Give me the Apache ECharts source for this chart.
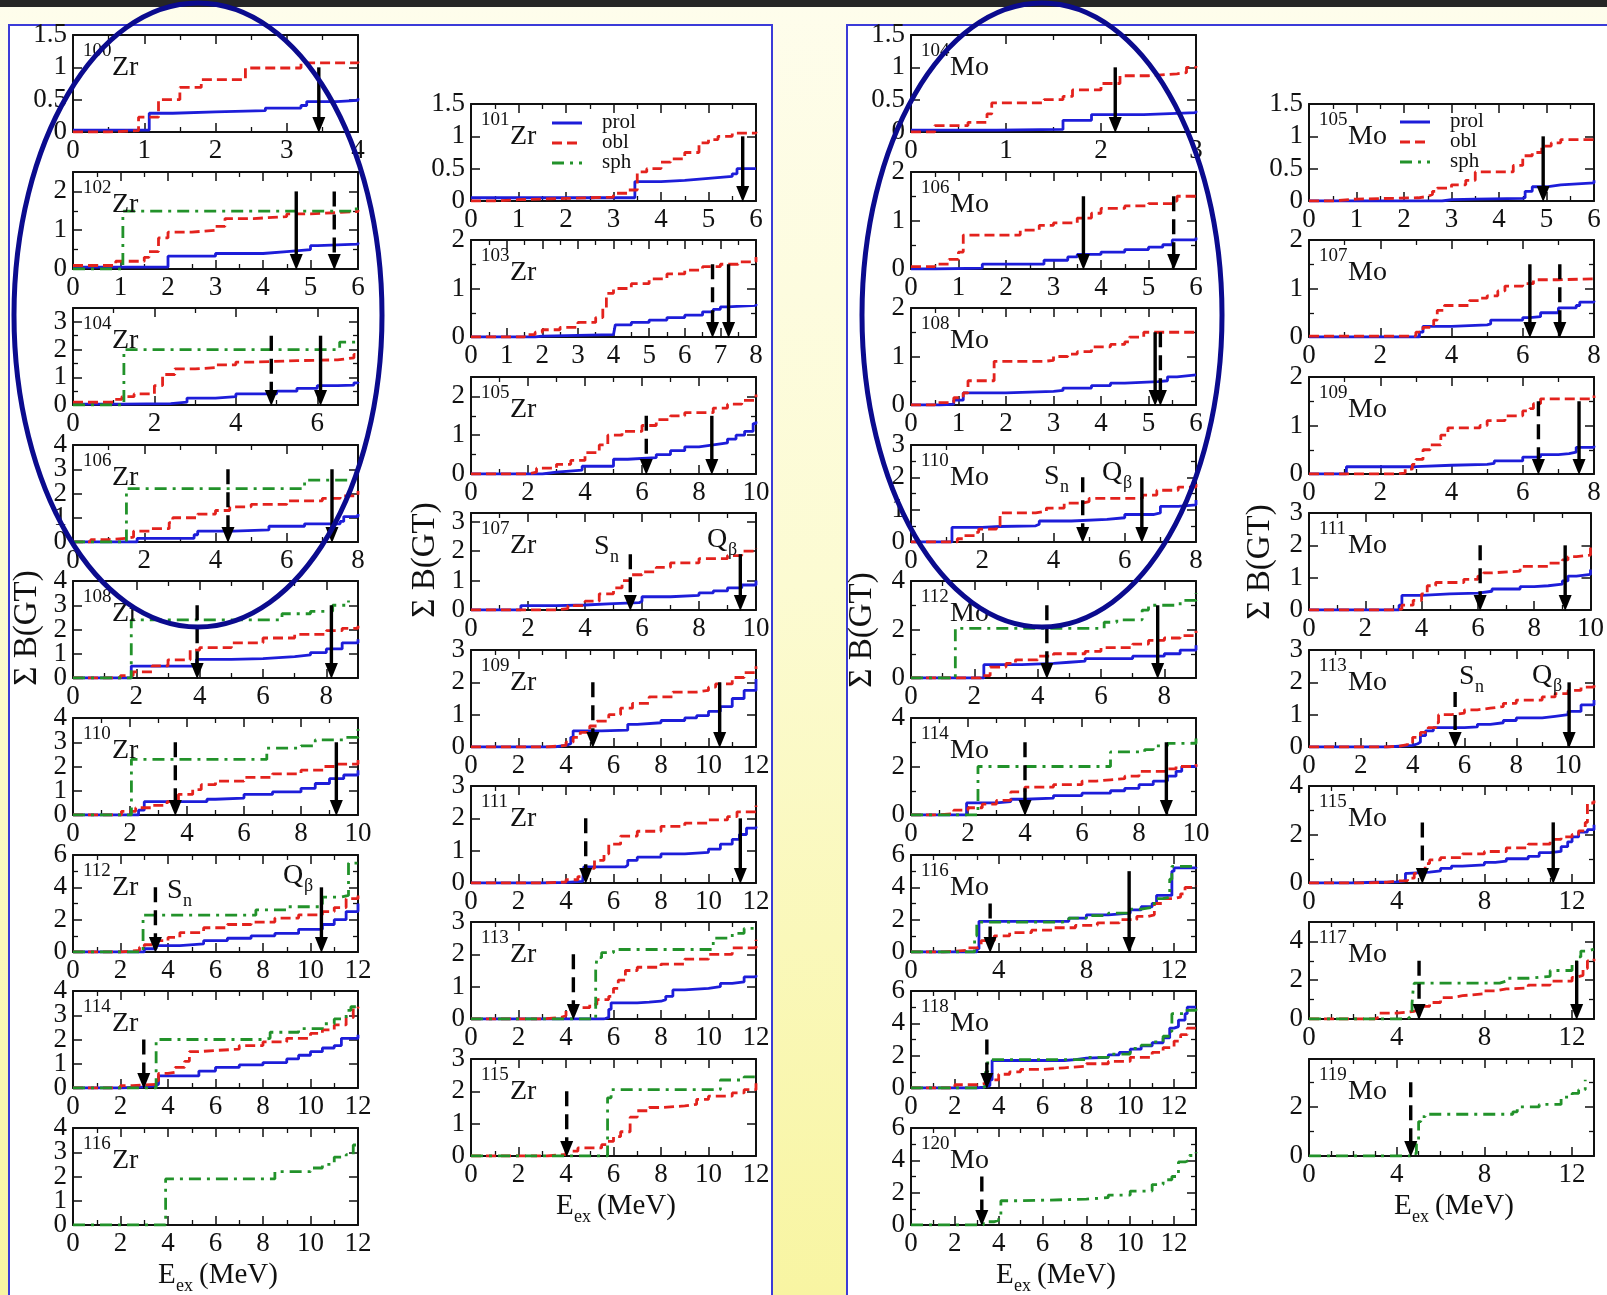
<!DOCTYPE html>
<html>
<head>
<meta charset="utf-8">
<script src="https://cdn.jsdelivr.net/npm/echarts@6/dist/echarts.min.js"></script>
<style>
  html, body { margin: 0; padding: 0; }
  body {
    width: 1607px; height: 1295px; overflow: hidden; position: relative;
    background: linear-gradient(to bottom, #fefdec 0%, #fcfbd2 45%, #f8f5a2 100%);
  }
  .band { position: absolute; left: 0; top: 0; width: 1607px; height: 7px; background: #262626; }
  .sheet { position: absolute; top: 24px; height: 1300px; background: #fff; border: 2px solid #3b3bd8; box-sizing: border-box; }
  #chart { position: absolute; left: 0; top: 0; width: 1607px; height: 1295px; }
</style>
</head>
<body>
<div class="band"></div>
<div class="sheet" style="left:8px;width:765px;"></div>
<div class="sheet" style="left:846px;width:780px;"></div>
<div id="chart"></div>
<script>
// Cumulative Gamow-Teller strength, sum B(GT), vs excitation energy (MeV).
// Each curve: [energy, running sum]; drawn as a step line.
// Arrows: [energy, arrow top, kind] with kind 1 = S_n (dashed), 0 = Q_beta (solid).

// ---- even Zr ----
const zr100Prol = [[0,0.03],[1.07,0.29],[1.4,0.31],[2.0,0.33],[2.7,0.37],[3.2,0.41],[3.28,0.47],[3.7,0.49],[4,0.52]];
const zr100Obl = [[0,0],[0.5,0.02],[0.92,0.23],[1.2,0.5],[1.5,0.69],[1.8,0.81],[2.42,0.99],[3.2,1.07],[4,1.09]];
const zr100Arrows = [[3.45,1.0,0]];

const zr102Prol = [[0,0.05],[2.0,0.33],[3.0,0.4],[4.0,0.45],[4.5,0.5],[5.0,0.6],[5.15,0.64],[6,0.68]];
const zr102Obl = [[0,0.09],[0.9,0.2],[1.5,0.3],[1.6,0.45],[1.8,0.8],[2.0,0.95],[2.5,1.0],[3.0,1.1],[3.2,1.3],[3.8,1.35],[4.5,1.42],[5.0,1.45],[5.5,1.48],[6,1.52]];
const zr102Sph = [[0,0],[1.05,1.49],[5.9,1.55],[6,1.55]];
const zr102Arrows = [[4.7,2.0,0],[5.5,2.0,1]];

const zr104Prol = [[0,0.03],[1.2,0.05],[2.4,0.1],[2.8,0.25],[3.5,0.3],[4.0,0.4],[5.0,0.5],[5.5,0.6],[6.0,0.7],[6.5,0.72],[6.9,0.8],[7,0.83]];
const zr104Obl = [[0,0.1],[1.0,0.2],[1.2,0.3],[1.5,0.4],[2.0,0.7],[2.2,1.1],[2.5,1.3],[3.0,1.35],[3.5,1.45],[4.0,1.55],[4.5,1.6],[5.5,1.63],[6.5,1.7],[6.9,1.83],[7,1.83]];
const zr104Sph = [[0,0],[1.25,2.0],[6.55,2.27],[7,2.27]];
const zr104Arrows = [[4.87,2.5,1],[6.08,2.5,0]];

const zr106Prol = [[0,0],[1.8,0.15],[3.4,0.3],[3.5,0.45],[4.5,0.5],[5.5,0.65],[6.5,0.75],[7.5,0.85],[7.6,1.05],[8,1.15]];
const zr106Obl = [[0,0],[0.5,0.1],[1.0,0.15],[1.5,0.2],[1.7,0.45],[2.2,0.55],[2.7,0.8],[2.8,1.0],[3.5,1.15],[4,1.3],[4.4,1.45],[5,1.55],[6,1.7],[7,1.8],[7.5,1.9],[8,2.1]];
const zr106Sph = [[0,0],[1.5,2.2],[6.5,2.55],[8,2.65]];
const zr106Arrows = [[4.35,3.0,1],[7.27,3.0,0]];

const zr108Prol = [[0,0],[1.84,0.49],[3.9,0.77],[5,0.8],[6,0.88],[7,0.95],[7.5,1.05],[8,1.2],[8.5,1.45],[9,1.6]];
const zr108Obl = [[0,0],[1.5,0.1],[1.9,0.25],[2.5,0.5],[3,0.75],[3.7,1.15],[4,1.25],[5,1.45],[6,1.65],[7,1.8],[8,1.95],[8.5,2.05],[9,2.15]];
const zr108Sph = [[0,0],[1.84,2.4],[6.6,2.65],[7.5,2.75],[8.2,3.0],[8.7,3.2]];
const zr108Arrows = [[3.92,3.0,1],[8.16,3.0,0]];

const zr110Prol = [[0,0],[2.3,0.2],[2.5,0.55],[4.7,0.65],[5,0.7],[6,0.85],[7,0.95],[8,1.1],[8.5,1.3],[9,1.5],[9.5,1.65],[10,1.85]];
const zr110Obl = [[0,0],[1.7,0.15],[2.2,0.3],[2.8,0.4],[3.3,0.55],[3.7,0.85],[4.2,1.05],[4.5,1.25],[5,1.4],[6,1.55],[7,1.7],[8,1.85],[8.8,2.0],[9.2,2.1],[10,2.3]];
const zr110Sph = [[0,0],[2.05,2.29],[6.8,2.76],[8,2.85],[8.5,3.1],[9.5,3.2],[10,3.55]];
const zr110Arrows = [[3.59,3.0,1],[9.24,3.0,0]];

const zr112Prol = [[0,0],[3,0.2],[3.5,0.4],[4.5,0.5],[5.5,0.7],[6.5,0.85],[7.5,1.0],[8.5,1.15],[9.5,1.4],[10.5,1.7],[11,2.0],[11.5,2.5],[12,3.0]];
const zr112Obl = [[0,0],[2,0.1],[2.8,0.3],[3,0.45],[3.5,0.7],[4,0.9],[4.5,1.2],[5.5,1.5],[6.5,1.7],[7.5,1.85],[8.5,2.1],[9.5,2.3],[10.5,2.5],[11,2.75],[11.5,3.3],[12,3.6]];
const zr112Sph = [[0,0],[2.95,2.28],[7.7,2.6],[9,2.8],[10.5,3.4],[11.3,3.5],[11.6,5.5],[12,5.5]];
const zr112Arrows = [[3.47,4.0,1],[10.46,4.0,0]];

const zr114Prol = [[0,0],[2,0.05],[3,0.1],[3.5,0.15],[3.6,0.5],[5.3,0.7],[6,0.85],[7,0.95],[8,1.05],[9,1.2],[9.5,1.35],[10,1.5],[10.5,1.65],[11,1.75],[11.3,2.05],[12,2.2]];
const zr114Obl = [[0,0],[2,0.1],[2.5,0.15],[3.5,0.3],[3.6,0.6],[4,0.65],[4.3,0.85],[4.7,1.1],[4.9,1.5],[5.3,1.55],[6,1.6],[7,1.75],[8,1.9],[9,2.05],[10,2.25],[10.5,2.4],[11,2.6],[11.5,2.9],[11.8,3.3],[12,3.35]];
const zr114Sph = [[0,0],[3.5,2.0],[8,2.05],[8.3,2.3],[9.5,2.45],[10.5,2.65],[11,2.85],[11.5,3.2],[11.7,3.35],[12,3.4]];
const zr114Arrows = [[2.98,2.0,1]];

const zr116Sph = [[0,0],[3.9,1.9],[8.5,2.2],[10,2.35],[10.5,2.5],[11,2.8],[11.5,2.9],[11.8,3.3],[12,3.3]];

// ---- odd Zr ----
const zr101Prol = [[0,0.05],[3.45,0.3],[4,0.32],[4.5,0.35],[5,0.38],[5.5,0.42],[5.6,0.5],[6,0.5]];
const zr101Obl = [[0,0],[0.5,0.02],[1,0.04],[2,0.06],[3,0.12],[3.3,0.17],[3.5,0.45],[3.7,0.5],[4.0,0.6],[4.2,0.65],[4.5,0.75],[4.8,0.9],[5.0,0.95],[5.2,1.0],[5.5,1.05],[6,1.07]];
const zr101Arrows = [[5.72,1.0,0]];

const zr103Prol = [[0,0],[1.8,0.02],[2,0.05],[4.0,0.07],[4.05,0.25],[4.5,0.3],[5,0.35],[5.5,0.4],[6,0.45],[6.5,0.52],[6.8,0.57],[7.0,0.62],[7.2,0.65],[8,0.68]];
const zr103Obl = [[0,0],[1.5,0.05],[1.8,0.1],[2.0,0.15],[2.5,0.2],[3.0,0.3],[3.5,0.4],[3.7,0.6],[3.8,0.9],[4.0,1.0],[4.5,1.1],[5.0,1.2],[5.5,1.3],[6,1.38],[6.5,1.45],[7,1.5],[7.5,1.55],[8,1.65]];
const zr103Arrows = [[6.78,1.5,1],[7.23,1.5,0]];

const zr105Prol = [[0,0],[2.5,0.05],[3,0.1],[3.9,0.2],[5,0.38],[5.5,0.42],[6.5,0.5],[7,0.6],[7.5,0.7],[8,0.75],[8.5,0.8],[9,0.9],[9.3,1.0],[9.6,1.1],[9.9,1.3],[10,1.35]];
const zr105Obl = [[0,0],[2,0.05],[2.3,0.15],[3,0.25],[3.5,0.35],[4,0.55],[4.5,0.75],[4.8,1.0],[5.3,1.1],[6,1.25],[6.5,1.4],[7,1.5],[7.5,1.58],[8.5,1.7],[9,1.8],[9.5,1.9],[10,2.05]];
const zr105Arrows = [[6.15,1.5,1],[8.45,1.5,0]];

const zr107Prol = [[0,0],[1.75,0.15],[3,0.17],[4,0.22],[5,0.25],[5.9,0.3],[6.0,0.45],[7,0.5],[8,0.58],[8.5,0.65],[9,0.75],[9.5,0.85],[10,1.0]];
const zr107Obl = [[0,0],[3,0.05],[3.4,0.15],[4,0.3],[4.5,0.55],[5,0.75],[5.3,1.0],[5.6,1.2],[6,1.3],[6.5,1.45],[7,1.6],[8,1.75],[9,1.85],[9.5,2.0],[10,2.1]];
const zr107Arrows = [[5.59,1.9,1],[9.45,1.9,0]];

const zr109Prol = [[0,0],[3.5,0.05],[4,0.1],[4.2,0.3],[4.3,0.5],[5.5,0.52],[6.6,0.7],[7,0.75],[8,0.82],[9,0.9],[9.5,0.97],[10,1.1],[10.5,1.25],[11,1.5],[11.5,1.75],[12,2.1]];
const zr109Obl = [[0,0],[3.2,0.05],[4,0.15],[4.3,0.3],[4.6,0.45],[5,0.65],[5.3,0.8],[5.8,1.0],[6.3,1.2],[6.8,1.35],[7.5,1.55],[8.5,1.7],[9.5,1.75],[10,1.85],[10.3,1.95],[11,2.15],[11.5,2.3],[12,2.5]];
const zr109Arrows = [[5.13,2.0,1],[10.47,2.0,0]];

const zr111Prol = [[0,0],[3,0.02],[4,0.05],[4.7,0.1],[4.75,0.5],[6.5,0.55],[6.6,0.7],[7,0.8],[8,0.9],[9,0.95],[10,1.05],[10.5,1.2],[11,1.35],[11.3,1.5],[11.6,1.7],[12,1.75]];
const zr111Obl = [[0,0],[3,0.03],[4,0.1],[4.5,0.2],[4.8,0.45],[5.2,0.7],[5.6,0.9],[5.8,1.2],[6.3,1.45],[7,1.6],[8,1.75],[9,1.85],[10,1.95],[10.8,2.05],[11.2,2.2],[12,2.4]];
const zr111Arrows = [[4.83,2.0,1],[11.34,2.0,0]];

const zr113Prol = [[0,0],[5.6,0.05],[5.8,0.3],[5.9,0.5],[7,0.52],[7.5,0.55],[8,0.6],[8.2,0.7],[8.5,0.9],[9,0.95],[10,1.0],[10.5,1.1],[11,1.15],[11.5,1.3],[12,1.35]];
const zr113Obl = [[0,0],[3,0.05],[3.8,0.1],[4,0.25],[4.2,0.35],[5,0.45],[5.3,0.6],[5.8,0.7],[6,0.95],[6.2,1.2],[6.5,1.5],[7,1.6],[8,1.7],[9,1.85],[10,2.0],[11,2.2],[12,2.45]];
const zr113Sph = [[0,0],[5.25,1.5],[5.3,1.9],[5.5,2.05],[6,2.15],[10.2,2.5],[11,2.65],[11.5,2.8],[12,2.9]];
const zr113Arrows = [[4.31,2.0,1]];

const zr115Obl = [[0,0],[3.2,0.05],[4,0.15],[4.5,0.25],[5.5,0.35],[5.7,0.45],[6,0.6],[6.3,0.75],[6.7,1.2],[7,1.4],[7.5,1.5],[8,1.55],[9,1.6],[9.5,1.75],[10,1.85],[11,1.95],[11.5,2.05],[12,2.25]];
const zr115Sph = [[0,0],[5.75,1.8],[5.9,2.05],[10.5,2.35],[11.5,2.45],[12,2.55]];
const zr115Arrows = [[4.03,2.0,1]];

// ---- even Mo ----
const mo104Prol = [[0,0.03],[0.9,0.04],[1.6,0.18],[1.9,0.27],[2.45,0.3],[3,0.33]];
const mo104Obl = [[0,0],[0.25,0.1],[0.6,0.15],[0.8,0.28],[0.85,0.45],[1.4,0.5],[1.6,0.55],[1.7,0.65],[2.0,0.75],[2.2,0.87],[2.5,0.9],[2.8,0.92],[2.9,1.0],[3,1.02]];
const mo104Arrows = [[2.15,1.0,0]];

const mo106Prol = [[0,0],[0.5,0.02],[1.5,0.1],[2.8,0.18],[3.3,0.25],[3.5,0.3],[4,0.35],[4.5,0.4],[5,0.45],[5.3,0.5],[5.5,0.6],[6,0.65]];
const mo106Obl = [[0,0.05],[0.5,0.1],[0.8,0.2],[1.0,0.35],[1.1,0.7],[2.3,0.8],[2.7,0.9],[3.0,0.95],[3.5,1.05],[3.8,1.15],[4.0,1.25],[4.5,1.3],[5.0,1.35],[5.5,1.4],[5.6,1.5],[6,1.52]];
const mo106Arrows = [[3.63,1.5,0],[5.53,1.5,1]];

const mo108Prol = [[0,0],[0.6,0.02],[0.9,0.1],[1.1,0.25],[2,0.28],[3,0.3],[3.2,0.35],[3.8,0.4],[4.2,0.45],[4.5,0.48],[5.2,0.5],[5.4,0.58],[5.6,0.62],[6,0.63]];
const mo108Obl = [[0,0],[0.5,0.05],[0.9,0.15],[1.1,0.25],[1.2,0.5],[1.75,0.9],[2.8,0.92],[3,1.0],[3.3,1.05],[3.5,1.1],[3.8,1.2],[4.2,1.25],[4.5,1.3],[4.6,1.4],[4.9,1.5],[6,1.5]];
const mo108Arrows = [[5.14,1.5,0],[5.25,1.5,1]];

const mo110Prol = [[0,0],[1.15,0.45],[2,0.48],[2.5,0.5],[3.5,0.55],[3.6,0.65],[4.5,0.7],[5.5,0.75],[6,0.85],[6.8,0.9],[7.0,1.1],[7.5,1.15],[8,1.3]];
const mo110Obl = [[0,0],[1.3,0.1],[1.5,0.2],[1.8,0.3],[1.9,0.4],[2.4,0.5],[2.5,0.9],[3.5,0.95],[3.8,1.05],[4.3,1.2],[4.8,1.25],[5.0,1.35],[6.5,1.45],[6.9,1.6],[7.5,1.7],[8,1.9]];
const mo110Arrows = [[4.82,2.0,1],[6.48,2.0,0]];

const mo112Prol = [[0,0],[2.3,0.55],[3.5,0.6],[4.5,0.65],[5,0.7],[5.5,0.8],[7,0.9],[8,1.0],[8.5,1.15],[9,1.35]];
const mo112Obl = [[0,0],[2.2,0.1],[2.5,0.45],[3,0.6],[3.3,0.75],[4,0.9],[4.5,1.0],[5.5,1.1],[6,1.25],[7,1.4],[7.5,1.55],[8,1.65],[8.5,1.75],[9,1.95]];
const mo112Sph = [[0,0],[1.4,2.05],[6.1,2.3],[6.5,2.4],[7.3,2.8],[7.5,3.0],[8.5,3.2],[9,3.5]];
const mo112Arrows = [[4.29,3.0,1],[7.79,3.0,0]];

const mo114Prol = [[0,0],[1.95,0.5],[3,0.55],[3.5,0.65],[4,0.7],[5,0.8],[6,0.9],[7,1.0],[7.5,1.1],[8,1.25],[8.5,1.4],[9,1.6],[9.3,1.8],[9.5,2.0],[10,2.05]];
const mo114Obl = [[0,0],[0.8,0.05],[1.5,0.2],[2,0.3],[2.5,0.45],[3,0.6],[3.5,0.95],[4,1.15],[5,1.25],[6,1.4],[6.5,1.45],[7,1.5],[7.5,1.6],[8,1.8],[9,1.9],[9.3,2.0],[10,2.1]];
const mo114Sph = [[0,0],[2.35,2.0],[7.0,2.6],[8.2,2.7],[8.5,2.85],[9,2.95],[10,3.15]];
const mo114Arrows = [[4.0,3.0,1],[8.96,3.0,0]];

const mo116Prol = [[0,0],[3.0,0.2],[3.1,1.9],[7.2,2.1],[8,2.3],[9,2.4],[10,2.6],[10.5,2.8],[11,3.0],[11.2,3.5],[11.9,5.0],[12,5.2],[13,5.25]];
const mo116Obl = [[0,0],[1.5,0.1],[2.5,0.25],[3,0.35],[3.2,0.7],[3.8,1.0],[4.5,1.2],[5.5,1.35],[6.5,1.5],[7.5,1.65],[8.5,1.8],[9.5,2.0],[10.3,2.2],[10.8,2.3],[11.1,3.0],[11.5,3.3],[12,3.4],[12.3,3.6],[12.5,4.0],[13,4.1]];
const mo116Sph = [[0,0],[2.9,1.0],[3.0,1.85],[6.9,1.9],[7.2,2.1],[8,2.25],[9,2.4],[10,2.65],[10.5,2.75],[11,3.0],[11.2,3.3],[11.5,3.4],[11.8,4.5],[11.9,5.3],[13,5.4]];
const mo116Arrows = [[3.61,3.0,1],[9.95,5.0,0]];

const mo118Prol = [[0,0],[3,0.05],[3.3,0.15],[3.6,0.5],[3.7,1.7],[7,1.75],[7.5,1.85],[8,1.9],[9,2.05],[9.5,2.2],[10,2.4],[10.5,2.6],[11,2.8],[11.5,3.1],[11.8,3.7],[12,3.8],[12.2,4.2],[12.5,4.6],[12.6,5.0],[13,5.0]];
const mo118Obl = [[0,0],[2,0.2],[3,0.3],[3.5,0.5],[4,0.85],[4.5,1.0],[5,1.15],[6,1.25],[7,1.35],[8,1.5],[9,1.65],[10,1.9],[11,2.2],[11.5,2.5],[12,2.9],[12.3,3.3],[12.6,3.7],[13,3.75]];
const mo118Sph = [[0,0],[3.2,0.1],[3.4,1.0],[3.5,1.75],[8,1.9],[9,2.1],[10,2.45],[10.5,2.65],[11,2.85],[11.5,3.2],[11.8,3.5],[11.9,4.6],[12.5,4.8],[13,5.0]];
const mo118Arrows = [[3.46,3.0,1]];

const mo120Sph = [[0,0],[3.3,0.2],[3.8,0.3],[4.0,0.6],[4.1,1.5],[5,1.6],[8,1.7],[9,1.85],[10,2.1],[11,2.5],[11.5,2.8],[11.9,3.0],[12.2,3.9],[12.5,4.0],[12.7,4.3],[13,4.5]];
const mo120Arrows = [[3.23,3.0,1]];

// ---- odd Mo ----
const mo105Prol = [[0,0],[2.8,0.02],[3,0.03],[3.5,0.04],[4.5,0.05],[4.55,0.15],[4.7,0.22],[5,0.25],[5.3,0.28],[6,0.32]];
const mo105Obl = [[0,0],[0.5,0.03],[1,0.05],[2.3,0.07],[2.5,0.1],[2.6,0.15],[2.7,0.2],[3,0.25],[3.3,0.32],[3.5,0.45],[4.3,0.55],[4.5,0.7],[4.7,0.75],[4.9,0.85],[5.1,0.9],[5.3,0.95],[6,1.0]];
const mo105Arrows = [[4.93,1.0,0]];

const mo107Prol = [[0,0],[3.1,0.1],[3.2,0.22],[4,0.25],[5,0.27],[5.1,0.35],[6,0.4],[6.2,0.42],[6.5,0.5],[7,0.6],[7.5,0.65],[7.6,0.72],[8,0.75]];
const mo107Obl = [[0,0.02],[3,0.1],[3.2,0.2],[3.5,0.35],[3.6,0.55],[3.8,0.65],[4.5,0.75],[4.8,0.8],[5,0.85],[5.3,0.95],[5.5,1.05],[6,1.1],[6.3,1.18],[7,1.2],[8,1.22]];
const mo107Arrows = [[6.2,1.5,0],[7.04,1.5,1]];

const mo109Prol = [[0,0],[1.05,0.15],[3,0.18],[4,0.2],[5,0.22],[5.2,0.27],[6,0.35],[6.5,0.4],[7,0.42],[7.3,0.45],[7.5,0.55],[8,0.58]];
const mo109Obl = [[0,0],[2.4,0.02],[2.7,0.1],[2.9,0.2],[3.0,0.3],[3.2,0.5],[3.4,0.6],[3.7,0.8],[3.9,0.95],[4.8,1.0],[5,1.1],[5.5,1.2],[6,1.3],[6.2,1.35],[6.3,1.45],[6.5,1.55],[7.5,1.55],[8,1.62]];
const mo109Arrows = [[6.44,1.5,1],[7.58,1.5,0]];

const mo111Prol = [[0,0],[3.2,0.15],[3.3,0.45],[4,0.5],[5,0.52],[6,0.58],[6.5,0.65],[7.5,0.72],[8,0.75],[8.5,0.8],[9,0.9],[9.2,1.05],[9.5,1.1],[10,1.25]];
const mo111Obl = [[0,0],[3,0.03],[3.3,0.15],[3.7,0.3],[4,0.5],[4.2,0.75],[4.5,0.85],[5.5,0.95],[6,1.05],[6.2,1.15],[6.5,1.2],[7.5,1.35],[8.5,1.45],[9,1.55],[9.2,1.65],[9.5,1.7],[10,1.95]];
const mo111Arrows = [[6.08,2.0,1],[9.1,2.0,0]];

const mo113Prol = [[0,0],[3,0.05],[4,0.1],[4.2,0.15],[4.3,0.35],[4.5,0.5],[4.8,0.6],[6,0.62],[6.5,0.7],[7,0.75],[7.5,0.82],[8,0.9],[9,0.95],[9.5,1.0],[10,1.1],[10.5,1.3],[11,1.45]];
const mo113Obl = [[0,0],[3,0.03],[3.5,0.07],[3.8,0.15],[4,0.3],[4.3,0.45],[4.6,0.6],[4.9,0.75],[5,1.0],[5.5,1.05],[6,1.15],[6.5,1.2],[7,1.25],[7.5,1.35],[8,1.45],[9,1.55],[9.5,1.65],[10,1.75],[10.5,1.85],[11,2.0]];
const mo113Arrows = [[5.64,1.7,1],[10.04,2.0,0]];

const mo115Prol = [[0,0],[2,0.03],[3,0.05],[4,0.08],[4.3,0.1],[4.4,0.4],[4.5,0.45],[5.5,0.5],[6,0.6],[6.5,0.7],[7,0.75],[8,0.85],[8.5,0.9],[9,1.0],[10,1.1],[10.5,1.25],[11,1.3],[11.5,1.5],[11.8,1.7],[12,1.9],[12.3,2.1],[12.7,2.2],[13,2.4]];
const mo115Obl = [[0,0],[2.5,0.03],[3.5,0.08],[4,0.1],[4.5,0.2],[4.8,0.4],[5,0.55],[5.3,0.8],[5.5,0.95],[6,1.05],[7,1.2],[8,1.3],[9,1.45],[10,1.6],[11,1.8],[11.5,1.9],[12,2.0],[12.3,2.15],[12.6,2.5],[12.7,3.3],[13,3.4]];
const mo115Arrows = [[5.17,2.5,1],[11.14,2.5,0]];

const mo117Obl = [[0,0],[3,0.1],[3.2,0.3],[4,0.35],[4.5,0.4],[4.8,0.5],[5.2,0.65],[5.5,0.85],[6,1.1],[6.5,1.2],[7,1.3],[8,1.45],[8.5,1.55],[9,1.6],[10,1.75],[11,1.95],[12,2.15],[12.2,2.25],[12.5,2.6],[12.7,3.0],[13,3.1]];
const mo117Sph = [[0,0],[4.5,0.1],[4.6,0.2],[4.7,0.8],[4.75,1.5],[4.8,1.85],[8.7,1.95],[9,2.1],[10,2.2],[11,2.5],[12,2.85],[12.2,3.2],[12.4,3.5],[12.7,3.6],[13,3.6]];
const mo117Arrows = [[5.02,3.0,1],[12.21,3.0,0]];

const mo119Sph = [[0,0],[4.8,0.1],[4.9,0.5],[5.0,1.4],[5.1,1.6],[5.3,1.7],[9.3,1.8],[9.5,2.0],[10.5,2.1],[11.5,2.4],[12,2.55],[12.3,2.7],[12.6,3.1]];
const mo119Arrows = [[4.64,3.0,1]];

// Axis ranges and tick steps for every panel:
// [mass, element, column, row, xMax, xStep, xMinorSplit, yMax, yStep, yMinorSplit]
const panelAxes = [
  ['100','Zr',0,0, 4,1,2,   1.5,0.5,0],
  ['102','Zr',0,1, 6,1,2,   2.5,1,2],
  ['104','Zr',0,2, 7,2,2,   3.5,1,2],
  ['106','Zr',0,3, 8,2,2,   4,1,0],
  ['108','Zr',0,4, 9,2,2,   4,1,0],
  ['110','Zr',0,5, 10,2,2,  4,1,0],
  ['112','Zr',0,6, 12,2,2,  6,2,2],
  ['114','Zr',0,7, 12,2,2,  4,1,0],
  ['116','Zr',0,8, 12,2,2,  4,1,0],
  ['101','Zr',1,0, 6,1,2,   1.5,0.5,0],
  ['103','Zr',1,1, 8,1,2,   2,1,2],
  ['105','Zr',1,2, 10,2,2,  2.5,1,2],
  ['107','Zr',1,3, 10,2,2,  3.3,1,0],
  ['109','Zr',1,4, 12,2,2,  3,1,0],
  ['111','Zr',1,5, 12,2,2,  3,1,0],
  ['113','Zr',1,6, 12,2,2,  3,1,0],
  ['115','Zr',1,7, 12,2,2,  3,1,0],
  ['104','Mo',2,0, 3,1,2,   1.5,0.5,0],
  ['106','Mo',2,1, 6,1,2,   2,1,2],
  ['108','Mo',2,2, 6,1,2,   2,1,2],
  ['110','Mo',2,3, 8,2,2,   3,1,2],
  ['112','Mo',2,4, 9,2,2,   4,2,2],
  ['114','Mo',2,5, 10,2,2,  4,2,2],
  ['116','Mo',2,6, 13,4,4,  6,2,2],
  ['118','Mo',2,7, 13,2,2,  6,2,2],
  ['120','Mo',2,8, 13,2,2,  6,2,2],
  ['105','Mo',3,0, 6,1,2,   1.5,0.5,0],
  ['107','Mo',3,1, 8,2,2,   2,1,2],
  ['109','Mo',3,2, 8,2,2,   2,1,2],
  ['111','Mo',3,3, 10,2,2,  3,1,0],
  ['113','Mo',3,4, 11,2,2,  3,1,0],
  ['115','Mo',3,5, 13,4,4,  4,2,2],
  ['117','Mo',3,6, 13,4,4,  5,2,2],
  ['119','Mo',3,7, 13,4,4,  3.95,2,2]
];

// Curves per panel, same order as panelAxes: [prol, obl, sph, arrows]
const panelCurves = [
  [zr100Prol, zr100Obl, null, zr100Arrows],
  [zr102Prol, zr102Obl, zr102Sph, zr102Arrows],
  [zr104Prol, zr104Obl, zr104Sph, zr104Arrows],
  [zr106Prol, zr106Obl, zr106Sph, zr106Arrows],
  [zr108Prol, zr108Obl, zr108Sph, zr108Arrows],
  [zr110Prol, zr110Obl, zr110Sph, zr110Arrows],
  [zr112Prol, zr112Obl, zr112Sph, zr112Arrows],
  [zr114Prol, zr114Obl, zr114Sph, zr114Arrows],
  [null, null, zr116Sph, null],
  [zr101Prol, zr101Obl, null, zr101Arrows],
  [zr103Prol, zr103Obl, null, zr103Arrows],
  [zr105Prol, zr105Obl, null, zr105Arrows],
  [zr107Prol, zr107Obl, null, zr107Arrows],
  [zr109Prol, zr109Obl, null, zr109Arrows],
  [zr111Prol, zr111Obl, null, zr111Arrows],
  [zr113Prol, zr113Obl, zr113Sph, zr113Arrows],
  [null, zr115Obl, zr115Sph, zr115Arrows],
  [mo104Prol, mo104Obl, null, mo104Arrows],
  [mo106Prol, mo106Obl, null, mo106Arrows],
  [mo108Prol, mo108Obl, null, mo108Arrows],
  [mo110Prol, mo110Obl, null, mo110Arrows],
  [mo112Prol, mo112Obl, mo112Sph, mo112Arrows],
  [mo114Prol, mo114Obl, mo114Sph, mo114Arrows],
  [mo116Prol, mo116Obl, mo116Sph, mo116Arrows],
  [mo118Prol, mo118Obl, mo118Sph, mo118Arrows],
  [null, null, mo120Sph, mo120Arrows],
  [mo105Prol, mo105Obl, null, mo105Arrows],
  [mo107Prol, mo107Obl, null, mo107Arrows],
  [mo109Prol, mo109Obl, null, mo109Arrows],
  [mo111Prol, mo111Obl, null, mo111Arrows],
  [mo113Prol, mo113Obl, null, mo113Arrows],
  [mo115Prol, mo115Obl, null, mo115Arrows],
  [null, mo117Obl, mo117Sph, mo117Arrows],
  [null, null, mo119Sph, mo119Arrows]
];

const legendNames = ['prol', 'obl', 'sph'];

// ---------------- layout & styling ----------------
const SERIF = '"Liberation Serif", "Times New Roman", serif';
const BLUE = '#1d1dd9', RED = '#e3221d', GREEN = '#22922a';
const COLS = [
  { left: 73,   top0: 35,  pitch: 136.6 },
  { left: 471,  top0: 104, pitch: 136.4 },
  { left: 911,  top0: 35,  pitch: 136.6 },
  { left: 1309, top0: 104, pitch: 136.4 }
];
const PW = 285, PH = 97;

const styles = {
  prol: { color: BLUE,  width: 2.8, type: 'solid' },
  obl:  { color: RED,   width: 2.8, type: [10, 5] },
  sph:  { color: GREEN, width: 2.8, type: [12, 6, 3, 6] }
};
const dashOf = { prol: null, obl: [10, 5], sph: [12, 6, 3, 6] };

function fmtTick(step) {
  return function (v) {
    const r = v / step;
    return Math.abs(r - Math.round(r)) < 1e-6 ? String(+v.toFixed(2)) : '';
  };
}

// tick-label values 0, step, 2*step, ... up to max
function labelValues(max, step) {
  const out = [];
  for (let k = 0; k * step <= max + 1e-9; k++) out.push(+(k * step).toFixed(3));
  return out;
}

function makeAxis(gridIndex, position, max, step, minor, withLabels) {
  return {
    type: 'value', gridIndex, position, min: 0, max, interval: step,
    axisLine: { show: true, onZero: false, lineStyle: { color: '#111', width: 2 } },
    axisTick: { show: true, inside: true, length: 9, lineStyle: { color: '#111', width: 1.5 } },
    minorTick: { show: minor > 1, splitNumber: minor || 2, length: 5, lineStyle: { color: '#111', width: 1.3 } },
    splitLine: { show: false }, minorSplitLine: { show: false },
    axisLabel: {
      show: withLabels, margin: 5, color: '#111', fontFamily: SERIF, fontSize: 27,
      formatter: fmtTick(step), hideOverlap: false,
      showMinLabel: true, showMaxLabel: true
    },
    silent: true
  };
}

function drawArrow(params, api) {
  const x = api.value(0), top = api.value(1), dashed = api.value(2) === 1;
  const a = api.coord([x, top]), b = api.coord([x, 0]);
  const hw = 6.5, hh = 15;
  return {
    type: 'group',
    children: [
      { type: 'line', shape: { x1: a[0], y1: a[1], x2: b[0], y2: b[1] - hh + 1 },
        style: { stroke: '#000', lineWidth: 3.4, lineDash: dashed ? [15, 8] : null, fill: null } },
      { type: 'polygon', shape: { points: [[b[0] - hw, b[1] - hh], [b[0] + hw, b[1] - hh], [b[0], b[1] + 1]] },
        style: { fill: '#000', stroke: null } }
    ]
  };
}

function text(x, y, str, size, opts) {
  opts = opts || {};
  return {
    type: 'text', x, y, rotation: opts.rotation || 0, z: 50, silent: true,
    style: {
      text: str, fill: '#111', fontFamily: SERIF, fontSize: size,
      textAlign: opts.align || 'left', textVerticalAlign: 'middle',
      align: opts.align || 'left', verticalAlign: 'middle'
    }
  };
}

const grid = [], xAxis = [], yAxis = [], series = [], graphic = [];
const yLabelJobs = [];

panelAxes.forEach(function (p, i) {
  const [mass, el, col, row, xMax, xStep, xMinor, yMax, yStep, yMinor] = p;
  const [prol, obl, sph, arrows] = panelCurves[i];
  const c = COLS[col];
  const left = c.left, top = Math.round(c.top0 + row * c.pitch);
  grid.push({ left, top, width: PW, height: PH, containLabel: false });

  const xi = xAxis.length, yi = yAxis.length;
  xAxis.push(makeAxis(i, 'bottom', xMax, xStep, xMinor, true));
  xAxis.push(makeAxis(i, 'top', xMax, xStep, xMinor, false));
  // y tick labels are placed as text further below, at the axis' own pixel positions
  yAxis.push(makeAxis(i, 'left', yMax, yStep, yMinor, false));
  yAxis.push(makeAxis(i, 'right', yMax, yStep, yMinor, false));
  yLabelJobs.push({ xi, yi, values: labelValues(yMax, yStep), fmt: fmtTick(yStep) });

  const addCurve = function (name, data) {
    if (!data) return;
    series.push({
      type: 'line', name, data, xAxisIndex: xi, yAxisIndex: yi,
      step: 'end', symbol: 'none', showSymbol: false, z: 3, silent: true,
      color: styles[name].color, lineStyle: styles[name], itemStyle: { color: styles[name].color },
      emphasis: { disabled: true }
    });
  };
  addCurve('prol', prol);
  addCurve('obl', obl);
  addCurve('sph', sph);

  if (arrows) {
    series.push({
      type: 'custom', xAxisIndex: xi, yAxisIndex: yi, data: arrows,
      renderItem: drawArrow, clip: false, z: 5, silent: true
    });
  }

  // isotope label: mass number as superscript, then element symbol
  graphic.push(text(left + 10, top + 16, mass, 19));
  graphic.push(text(left + 39, top + 33, el, 28));
});

// line-style key (upper-right corner of the first odd-A panels)
function key(x, y) {
  legendNames.forEach(function (n, k) {
    const yy = y + k * 20;
    graphic.push({ type: 'line', z: 40, silent: true,
      shape: { x1: x, y1: yy, x2: x + 30, y2: yy },
      style: { stroke: styles[n].color, lineWidth: 3, lineDash: dashOf[n] } });
    graphic.push(text(x + 50, yy - 1, n, 21));
  });
}
key(552, 123);
key(1400, 122);

// S_n and Q_beta annotations
function subLabel(x, y, main, sub, mainW) {
  graphic.push(text(x, y, main, 28));
  graphic.push(text(x + mainW, y + 10, sub, 18));
}
subLabel(167, 891, 'S', 'n', 16);   subLabel(283, 876, 'Q', 'β', 21);
subLabel(594, 547, 'S', 'n', 16);   subLabel(707, 540, 'Q', 'β', 21);
subLabel(1044, 477, 'S', 'n', 16);  subLabel(1102, 473, 'Q', 'β', 21);
subLabel(1459, 677, 'S', 'n', 16);  subLabel(1532, 676, 'Q', 'β', 21);

// axis titles
function exTitle(x, y) {
  graphic.push(text(x, y, 'E', 29));
  graphic.push(text(x + 18, y + 11, 'ex', 18));
  graphic.push(text(x + 41, y, '(MeV)', 29));
}
exTitle(158, 1275); exTitle(556, 1206); exTitle(996, 1275); exTitle(1394, 1206);

[[27, 628], [425, 560], [862, 630], [1260, 562]].forEach(function (pt) {
  graphic.push(text(pt[0], pt[1], 'Σ B(GT)', 33, { align: 'center', rotation: Math.PI / 2 }));
});

// highlight ellipses
const ellipses = [
  { type: 'ellipse', z: 100, silent: true, shape: { cx: 198, cy: 315, rx: 184, ry: 312 },
    style: { fill: 'none', stroke: '#0b0b8e', lineWidth: 5 } },
  { type: 'ellipse', z: 100, silent: true, shape: { cx: 1042, cy: 315, rx: 180, ry: 312 },
    style: { fill: 'none', stroke: '#0b0b8e', lineWidth: 5 } }
];

const chart = echarts.init(document.getElementById('chart'), null, { renderer: 'canvas' });
chart.setOption({
  backgroundColor: 'transparent',
  animation: false,
  grid, xAxis, yAxis, series
});

// y tick labels, positioned through each panel's own axes
yLabelJobs.forEach(function (job) {
  job.values.forEach(function (v) {
    const s = job.fmt(v);
    if (!s) return;
    const px = chart.convertToPixel({ xAxisIndex: job.xi, yAxisIndex: job.yi }, [0, v]);
    graphic.push(text(px[0] - 6, px[1], s, 27, { align: 'right' }));
  });
});

chart.setOption({ graphic: { elements: graphic.concat(ellipses) } });
</script>
</body>
</html>
